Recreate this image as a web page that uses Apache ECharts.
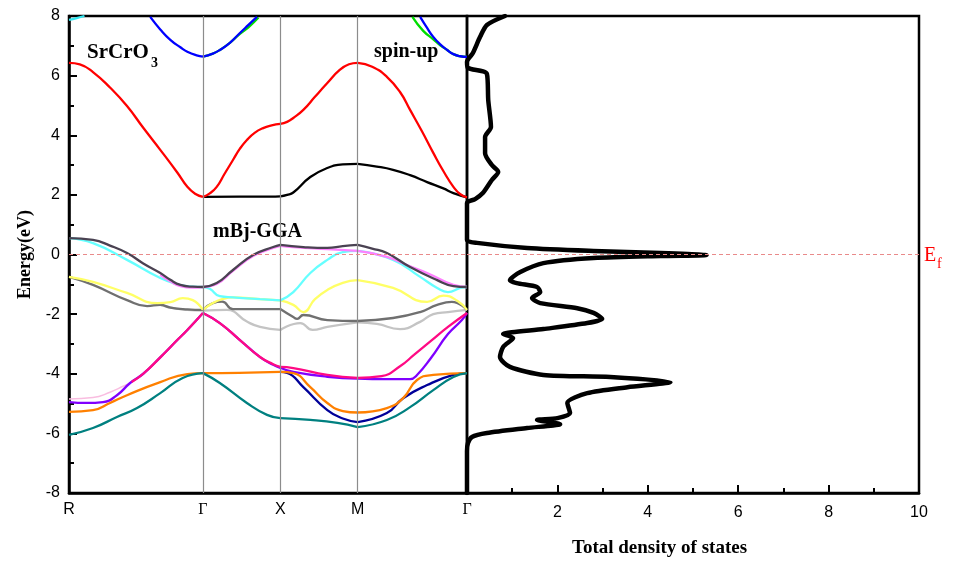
<!DOCTYPE html>
<html>
<head>
<meta charset="utf-8">
<script src="https://cdn.jsdelivr.net/npm/echarts@6/dist/echarts.min.js"></script>
<style>
  html, body { margin: 0; padding: 0; background: #fff; }
  #main { width: 959px; height: 561px; }
</style>
</head>
<body>
<div id="main"></div>
<script>
// high symmetry points (path length, cubic)
var kR = 0, kG1 = 1.732, kX = 2.732, kM = 3.732, kG2 = 5.146;
var kTicks = [kR, kG1, kX, kM, kG2];
var kNames = ['R', 'Γ', 'X', 'M', 'Γ'];

// bands: segments R-Γ, Γ-X, X-M, M-Γ  ([k, E(eV)])
var redBand = [
  [[0,6.43],[0.14,6.38],[0.31,6.12],[0.53,5.6],[0.75,4.98],[0.96,4.25],[1.18,3.51],[1.40,2.75],[1.53,2.27],[1.63,2.04],[1.732,1.93]],
  [[1.732,1.93],[1.82,2.05],[1.91,2.27],[2.01,2.7],[2.12,3.17],[2.21,3.55],[2.30,3.84],[2.40,4.08],[2.51,4.24],[2.62,4.33],[2.732,4.38]],
  [[2.732,4.38],[2.82,4.45],[2.90,4.58],[3.03,4.85],[3.18,5.29],[3.34,5.75],[3.50,6.19],[3.62,6.38],[3.732,6.43]],
  [[3.732,6.43],[3.92,6.3],[4.11,5.96],[4.28,5.45],[4.41,4.85],[4.56,4.15],[4.71,3.41],[4.84,2.8],[4.97,2.27],[5.06,2.02],[5.146,1.92]]
];
var blackBand = [
  [[1.732,1.93],[2.2,1.94],[2.6,1.94],[2.732,1.95]],
  [[2.732,1.95],[2.82,2.0],[2.90,2.08],[3.12,2.6],[3.34,2.9],[3.54,3.02],[3.732,3.04]],
  [[3.732,3.04],[3.98,2.95],[4.19,2.84],[4.41,2.66],[4.63,2.43],[4.84,2.22],[4.97,2.06],[5.146,1.92]]
];
var greenBand = [
  [[1.732,6.64],[1.86,6.74],[1.95,6.86],[2.08,7.1],[2.21,7.4],[2.32,7.62],[2.45,7.95]],
  [[4.44,7.97],[4.58,7.5],[4.71,7.22],[4.80,7.02],[4.89,6.86],[4.97,6.72],[5.06,6.65],[5.146,6.63]]
];
var blueBand = [
  [[1.05,7.97],[1.18,7.55],[1.31,7.2],[1.44,6.95],[1.53,6.8],[1.65,6.68],[1.732,6.64]],
  [[1.732,6.64],[1.86,6.74],[1.95,6.86],[2.08,7.1],[2.21,7.43],[2.32,7.7],[2.43,7.97]],
  [[4.54,7.97],[4.63,7.6],[4.71,7.3],[4.80,7.05],[4.89,6.86],[4.97,6.72],[5.06,6.65],[5.146,6.63]]
];
var cyanTop = [
  [[0,7.87],[0.1,7.93],[0.2,8.0]]
];
var charcoalBand = [
  [[0,0.55],[0.31,0.49],[0.53,0.3],[0.75,0.05],[0.96,-0.3],[1.18,-0.62],[1.31,-0.85],[1.44,-1.02],[1.60,-1.08],[1.732,-1.09]],
  [[1.732,-1.09],[1.91,-0.96],[2.12,-0.52],[2.38,-0.02],[2.64,0.25],[2.732,0.32]],
  [[2.732,0.32],[3.03,0.25],[3.34,0.22],[3.54,0.28],[3.732,0.32]],
  [[3.732,0.32],[3.92,0.2],[4.11,0.05],[4.41,-0.42],[4.76,-0.86],[4.97,-1.06],[5.146,-1.09]]
];
var violetBand = [
  [[1.18,-0.68],[1.31,-0.9],[1.44,-1.06],[1.60,-1.11],[1.732,-1.09]],
  [[1.732,-1.09],[1.91,-0.99],[2.12,-0.55],[2.38,-0.05],[2.64,0.22],[2.732,0.29]],
  [[2.732,0.29],[2.90,0.25],[3.34,0.18],[3.732,0.12]],
  [[3.732,0.12],[4.11,-0.08],[4.41,-0.4],[4.63,-0.62],[4.97,-1.02],[5.146,-1.09]]
];
var cyanBand = [
  [[0,0.55],[0.31,0.38],[0.75,-0.18],[1.18,-0.79],[1.40,-1.0],[1.60,-1.08],[1.732,-1.09]],
  [[1.732,-1.09],[1.82,-1.15],[1.95,-1.4],[2.12,-1.44],[2.47,-1.5],[2.732,-1.54]],
  [[2.732,-1.54],[2.90,-1.26],[3.12,-0.62],[3.34,-0.18],[3.54,0.08],[3.732,0.12]],
  [[3.732,0.12],[4.19,-0.18],[4.54,-0.75],[4.76,-1.12],[4.90,-1.26],[5.06,-1.12],[5.146,-1.09]]
];
var yellowBand = [
  [[0,-0.75],[0.31,-0.92],[0.75,-1.29],[1.14,-1.63],[1.31,-1.6],[1.47,-1.46],[1.60,-1.53],[1.732,-1.86]],
  [[1.732,-1.86],[1.86,-1.63],[1.98,-1.5],[2.12,-1.44],[2.47,-1.5],[2.732,-1.54]],
  [[2.732,-1.54],[2.90,-1.69],[3.03,-1.93],[3.18,-1.5],[3.34,-1.19],[3.54,-0.95],[3.732,-0.86]],
  [[3.732,-0.86],[4.19,-1.12],[4.63,-1.59],[4.84,-1.38],[5.02,-1.55],[5.146,-1.86]]
];
var greyBand = [
  [[0,-0.75],[0.31,-1.02],[0.75,-1.53],[1.01,-1.73],[1.18,-1.69],[1.31,-1.78],[1.53,-1.84],[1.732,-1.86]],
  [[1.732,-1.86],[1.86,-1.63],[1.98,-1.58],[2.12,-1.83],[2.47,-1.83],[2.732,-1.83]],
  [[2.732,-1.83],[2.90,-2.1],[2.95,-2.16],[3.03,-2.03],[3.34,-2.2],[3.732,-2.23]],
  [[3.732,-2.23],[4.19,-2.13],[4.54,-1.93],[4.76,-1.69],[4.95,-1.59],[5.146,-1.86]]
];
var lightGreyBand = [
  [[1.18,-1.69],[1.35,-1.8],[1.53,-1.86],[1.732,-1.88]],
  [[1.732,-1.88],[2.04,-1.86],[2.30,-2.25],[2.47,-2.43],[2.732,-2.53]],
  [[2.732,-2.53],[2.99,-2.3],[3.15,-2.53],[3.34,-2.43],[3.732,-2.28]],
  [[3.732,-2.28],[3.98,-2.33],[4.28,-2.5],[4.54,-2.26],[4.71,-2.0],[4.90,-1.93],[5.146,-1.86]]
];
var palePinkBand = [
  [[0,-4.85],[0.31,-4.8],[0.53,-4.62],[0.70,-4.42],[0.81,-4.28]]
];
var pinkBand = [
  [[0.81,-4.28],[0.96,-4.0],[1.18,-3.45],[1.40,-2.87],[1.53,-2.53],[1.732,-1.96]],
  [[1.732,-1.96],[1.95,-2.3],[2.21,-2.87],[2.47,-3.44],[2.64,-3.68],[2.732,-3.77]],
  [[2.732,-3.77],[2.90,-3.81],[3.34,-4.04],[3.732,-4.14]],
  [[3.732,-4.14],[4.04,-4.08],[4.28,-3.75],[4.46,-3.37],[4.68,-2.9],[4.90,-2.43],[5.146,-1.96]]
];
var purpleBand = [
  [[0,-4.95],[0.23,-4.98],[0.44,-4.95],[0.62,-4.72],[0.79,-4.31],[0.96,-4.0],[1.18,-3.45],[1.40,-2.87],[1.53,-2.53],[1.732,-1.96]],
  [[1.732,-1.96],[1.95,-2.3],[2.21,-2.87],[2.47,-3.44],[2.64,-3.7],[2.732,-3.8]],
  [[2.732,-3.8],[2.90,-3.94],[3.34,-4.1],[3.732,-4.16]],
  [[3.732,-4.16],[4.11,-4.18],[4.41,-4.18],[4.50,-4.04],[4.68,-3.47],[4.90,-2.67],[5.08,-2.2],[5.146,-1.96]]
];
var navyBand = [
  [[2.732,-3.94],[2.82,-3.97],[3.03,-4.45],[3.34,-5.22],[3.54,-5.5],[3.732,-5.62]],
  [[3.732,-5.62],[4.11,-5.32],[4.32,-4.82],[4.63,-4.38],[4.97,-4.04],[5.146,-3.98]]
];
var orangeBand = [
  [[0,-5.28],[0.31,-5.22],[0.53,-4.98],[0.75,-4.72],[1.18,-4.28],[1.53,-4.01],[1.732,-3.98]],
  [[1.732,-3.98],[2.2,-3.97],[2.732,-3.94]],
  [[2.732,-3.94],[2.90,-3.98],[3.12,-4.45],[3.34,-4.98],[3.54,-5.25],[3.732,-5.3]],
  [[3.732,-5.3],[4.11,-5.15],[4.32,-4.82],[4.50,-4.21],[4.71,-4.04],[5.146,-3.98]]
];
var tealBand = [
  [[0,-6.05],[0.31,-5.82],[0.62,-5.45],[0.88,-5.15],[1.18,-4.65],[1.47,-4.14],[1.732,-3.98]],
  [[1.732,-3.98],[1.95,-4.31],[2.30,-4.98],[2.56,-5.38],[2.732,-5.49]],
  [[2.732,-5.49],[3.12,-5.55],[3.47,-5.65],[3.732,-5.79]],
  [[3.732,-5.79],[4.11,-5.55],[4.41,-5.12],[4.71,-4.55],[4.97,-4.11],[5.146,-3.98]]
];

// total DOS: [states, E(eV)]
var dosData = [
  [0.84,8.0],[0.44,7.7],[0.29,7.3],[0.13,6.76],[0.0,6.46],[0.02,6.26],[0.44,6.06],[0.47,5.18],[0.53,4.28],
  [0.4,3.94],[0.4,3.4],[0.55,3.0],[0.69,2.77],[0.55,2.5],[0.35,2.06],[0.18,1.86],[0.0,1.73],[0.0,0.49],
  [0.22,0.39],[1.33,0.22],[2.8,0.12],[4.28,0.05],[5.3,-0.02],[4.28,-0.05],[2.8,-0.12],[1.69,-0.29],
  [1.18,-0.59],[0.95,-0.86],[1.1,-0.96],[1.55,-1.09],[1.62,-1.26],[1.44,-1.46],[1.62,-1.63],[2.44,-1.8],
  [2.8,-1.96],[2.99,-2.16],[2.66,-2.3],[1.69,-2.5],[0.8,-2.67],[1.02,-2.8],[0.8,-3.1],[0.73,-3.44],
  [0.95,-3.77],[1.69,-4.04],[3.17,-4.11],[4.5,-4.28],[3.55,-4.45],[2.66,-4.65],[2.22,-4.98],[2.28,-5.32],
  [2.0,-5.49],[1.55,-5.55],[2.06,-5.69],[1.33,-5.82],[0.44,-5.99],[0.11,-6.12],[0.02,-6.33],[0,-6.6],[0,-8]
];

var series = [];
function addBand(segs, color, width) {
  segs.forEach(function (s) {
    series.push({
      type: 'line', xAxisIndex: 0, yAxisIndex: 0,
      data: s, showSymbol: false, smooth: 0.5, silent: true,
      lineStyle: { color: color, width: width || 2.3 }
    });
  });
}

// reference lines (high symmetry + Fermi level)
series.push({
  type: 'line', xAxisIndex: 0, yAxisIndex: 0, data: [], silent: true,
  markLine: {
    symbol: 'none', silent: true, animation: false, label: { show: false },
    lineStyle: { color: '#8c8c8c', width: 1.2, type: 'solid' },
    data: [{ xAxis: kG1 }, { xAxis: kX }, { xAxis: kM }]
  }
});
series.push({
  type: 'line', xAxisIndex: 0, yAxisIndex: 0, data: [], silent: true,
  markLine: {
    symbol: 'none', silent: true, animation: false, label: { show: false },
    lineStyle: { color: '#e98a8a', width: 1, type: [4, 3] },
    data: [{ yAxis: 0 }]
  }
});
series.push({
  type: 'line', xAxisIndex: 1, yAxisIndex: 1, data: [], silent: true,
  markLine: {
    symbol: 'none', silent: true, animation: false, label: { show: false },
    lineStyle: { color: '#e98a8a', width: 1, type: [4, 3] },
    data: [{ yAxis: 0 }]
  }
});

addBand(lightGreyBand, '#c4c4c4');
addBand(greyBand, '#707070');
addBand(yellowBand, '#ffff66');
addBand(cyanBand, '#66ffff');
addBand(violetBand, '#ff80ff');
addBand(charcoalBand, '#4a4252');
addBand(palePinkBand, '#f9bde0', 1.5);
addBand(purpleBand, '#8000ff');
addBand(pinkBand, '#ff0a84');
addBand(navyBand, '#000099');
addBand(orangeBand, '#ff8000');
addBand(tealBand, '#008080');
addBand(cyanTop, '#33e6f0');
addBand(greenBand, '#00dd00');
addBand(blueBand, '#0000ff');
addBand(blackBand, '#000000');
addBand(redBand, '#ff0000');

series.push({
  type: 'line', xAxisIndex: 1, yAxisIndex: 1,
  data: dosData, showSymbol: false, smooth: 0.25, silent: true,
  lineStyle: { color: '#000', width: 4.5, join: 'round', cap: 'round' }
});

var tickFont = { color: '#000', fontSize: 16, fontFamily: 'Liberation Sans Narrow, Liberation Sans, Arial, sans-serif' };
var boldSerif = 'Liberation Serif, Times New Roman, serif';

var chart = echarts.init(document.getElementById('main'));
chart.setOption({
  animation: false,
  backgroundColor: '#fff',
  grid: [
    { left: 69, top: 16, width: 398, height: 477, show: true, borderColor: '#000', borderWidth: 2.5, backgroundColor: 'transparent' },
    { left: 467, top: 16, width: 452, height: 477, show: true, borderColor: '#000', borderWidth: 2.5, backgroundColor: 'transparent' }
  ],
  xAxis: [
    {
      type: 'value', gridIndex: 0, min: kR, max: kG2,
      axisLine: { show: true, onZero: false, lineStyle: { color: '#000', width: 2.5 } },
      axisTick: { show: false },
      splitLine: { show: false },
      axisLabel: {
        customValues: kTicks, margin: 9, color: '#000', fontSize: 16,
        fontFamily: 'Liberation Sans Narrow, Liberation Sans, Arial, sans-serif',
        formatter: function (v) {
          for (var i = 0; i < kTicks.length; i++) {
            if (Math.abs(v - kTicks[i]) < 1e-6) {
              return kNames[i] === 'Γ' ? '{g|Γ}' : kNames[i];
            }
          }
          return '';
        },
        rich: { g: { fontFamily: 'Liberation Serif, serif', fontSize: 16, color: '#000' } }
      }
    },
    {
      type: 'value', gridIndex: 1, min: 0, max: 10, interval: 2,
      axisLine: { show: true, onZero: false, lineStyle: { color: '#000', width: 2.5 } },
      axisTick: { show: true, inside: true, length: 8, lineStyle: { color: '#000', width: 2 } },
      minorTick: { show: true, splitNumber: 2, length: 5, lineStyle: { color: '#000', width: 2 } },
      splitLine: { show: false },
      axisLabel: Object.assign({ margin: 12, formatter: function (v) { return v === 0 ? '' : String(v); } }, tickFont)
    }
  ],
  yAxis: [
    {
      type: 'value', gridIndex: 0, min: -8, max: 8, interval: 2,
      name: 'Energy(eV)', nameLocation: 'middle', nameGap: 35, nameRotate: 90,
      nameTextStyle: { color: '#000', fontSize: 18, fontWeight: 'bold', fontFamily: boldSerif },
      axisLine: { show: true, onZero: false, lineStyle: { color: '#000', width: 2.5 } },
      axisTick: { show: true, inside: true, length: 8, lineStyle: { color: '#000', width: 2 } },
      minorTick: { show: true, splitNumber: 2, length: 5, lineStyle: { color: '#000', width: 2 } },
      splitLine: { show: false },
      axisLabel: Object.assign({ margin: 9 }, tickFont)
    },
    {
      type: 'value', gridIndex: 1, min: -8, max: 8, interval: 2,
      axisLine: { show: false }, axisTick: { show: false },
      axisLabel: { show: false }, splitLine: { show: false }
    }
  ],
  graphic: [
    { type: 'text', left: 87, top: 42, silent: true,
      style: { text: 'SrCrO', fill: '#000', font: 'bold 21px ' + boldSerif } },
    { type: 'text', left: 151, top: 56, silent: true,
      style: { text: '3', fill: '#000', font: 'bold 14px ' + boldSerif } },
    { type: 'text', left: 374, top: 42, silent: true,
      style: { text: 'spin-up', fill: '#000', font: 'bold 20px ' + boldSerif } },
    { type: 'text', left: 213, top: 222, silent: true,
      style: { text: 'mBj-GGA', fill: '#000', font: 'bold 20px ' + boldSerif } },
    { type: 'text', left: 924, top: 246, silent: true,
      style: { text: 'E', fill: '#ff0000', font: '20px ' + boldSerif } },
    { type: 'text', left: 937, top: 257, silent: true,
      style: { text: 'f', fill: '#ff0000', font: '14px ' + boldSerif } },
    { type: 'text', left: 572, top: 539, silent: true,
      style: { text: 'Total density of states', fill: '#000', font: 'bold 19px ' + boldSerif } }
  ],
  series: series
});
</script>
</body>
</html>
